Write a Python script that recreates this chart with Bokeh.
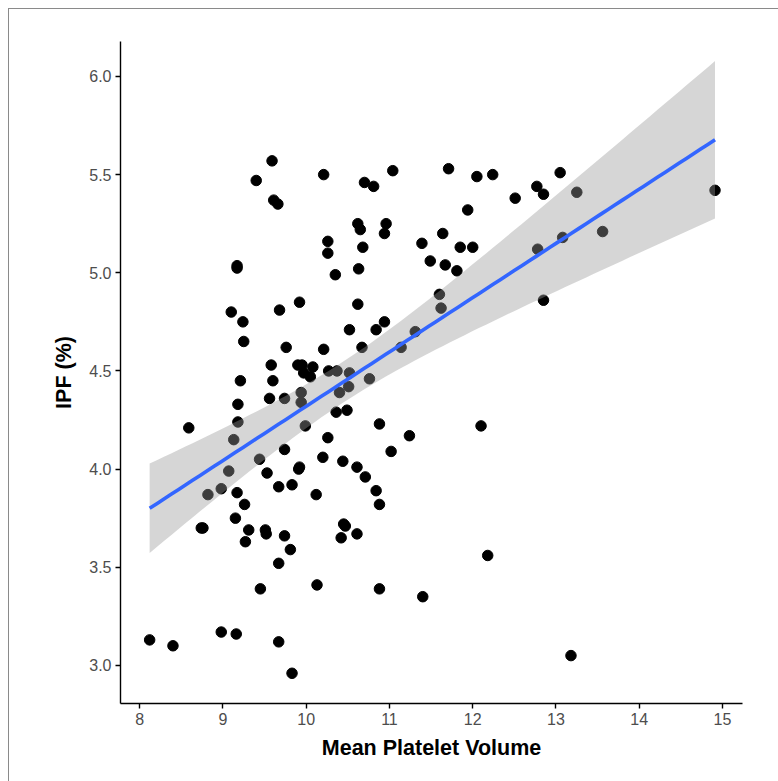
import numpy as np
from bokeh.plotting import figure
from bokeh.models import ColumnDataSource, Range1d, FixedTicker, CustomJSTickFormatter
from bokeh.embed import file_html
from bokeh.resources import INLINE

# Mean platelet volume (fL) and immature platelet fraction (%) per patient
mpv = [
    9.59, 9.40, 9.61, 9.66, 9.17, 9.17, 9.10, 9.24, 9.68, 9.92,
    9.25, 10.21, 10.70, 10.81, 11.04, 11.71, 12.05, 11.94, 10.62, 10.65,
    10.96, 10.94, 10.26, 10.26, 10.68, 10.63, 10.35, 11.39, 11.64, 11.85,
    12.00, 11.49, 11.67, 11.81, 11.60, 11.62, 10.62, 10.52, 10.84, 10.94,
    11.31, 12.24, 13.05, 12.77, 12.85, 12.51, 13.25, 14.91, 13.08, 13.56,
    12.78, 12.85, 9.76, 9.58, 9.60, 9.90, 9.21, 9.56, 9.74, 9.94,
    9.94, 9.18, 9.18, 8.59, 9.13, 9.44, 9.74, 9.92, 9.07, 9.53,
    9.67, 9.83, 8.82, 8.98, 9.17, 9.26, 9.15, 8.74, 8.76, 9.31,
    9.51, 9.52, 9.74, 9.27, 9.81, 9.67, 9.45, 8.12, 8.40, 8.98,
    9.16, 9.67, 9.83, 10.21, 10.67, 11.14, 9.95, 10.08, 9.97, 10.05,
    10.27, 10.37, 10.52, 10.76, 10.40, 10.51, 10.36, 10.49, 9.99, 10.88,
    10.26, 11.24, 10.20, 10.44, 10.61, 11.02, 10.71, 10.12, 10.84, 10.88,
    10.45, 10.47, 10.61, 10.42, 10.13, 10.88, 11.40, 12.18, 13.18, 12.10,
    9.91,
]
ipf = [
    5.57, 5.47, 5.37, 5.35, 5.036, 5.024, 4.80, 4.75, 4.81, 4.85,
    4.65, 5.50, 5.46, 5.44, 5.52, 5.53, 5.49, 5.32, 5.25, 5.22,
    5.25, 5.20, 5.16, 5.10, 5.13, 5.02, 4.99, 5.15, 5.20, 5.13,
    5.13, 5.06, 5.04, 5.01, 4.89, 4.82, 4.84, 4.71, 4.71, 4.75,
    4.70, 5.50, 5.51, 5.44, 5.40, 5.38, 5.41, 5.42, 5.18, 5.21,
    5.12, 4.86, 4.62, 4.53, 4.45, 4.53, 4.45, 4.36, 4.36, 4.39,
    4.34, 4.33, 4.24, 4.21, 4.15, 4.05, 4.10, 4.01, 3.99, 3.98,
    3.91, 3.92, 3.87, 3.90, 3.88, 3.82, 3.75, 3.70, 3.70, 3.69,
    3.69, 3.67, 3.66, 3.63, 3.59, 3.52, 3.39, 3.13, 3.10, 3.17,
    3.16, 3.12, 2.96, 4.61, 4.62, 4.62, 4.53, 4.52, 4.49, 4.47,
    4.50, 4.50, 4.49, 4.46, 4.39, 4.42, 4.29, 4.30, 4.22, 4.23,
    4.16, 4.17, 4.06, 4.04, 4.01, 4.09, 3.96, 3.87, 3.89, 3.82,
    3.72, 3.71, 3.67, 3.65, 3.41, 3.39, 3.35, 3.56, 3.05, 4.22,
    4.00,
]

x_ticks = [8, 9, 10, 11, 12, 13, 14, 15]
y_ticks = [3.0, 3.5, 4.0, 4.5, 5.0, 5.5, 6.0]

# Ordinary least squares fit with a 95% confidence band
x = np.asarray(mpv, dtype=float)
y = np.asarray(ipf, dtype=float)
n = len(x)
xbar = x.mean()
sxx = ((x - xbar) ** 2).sum()
slope = ((x - xbar) * (y - y.mean())).sum() / sxx
intercept = y.mean() - slope * xbar
resid = y - (intercept + slope * x)
s = np.sqrt((resid ** 2).sum() / (n - 2))
t_crit = 1.979
grid = np.linspace(x.min(), x.max(), 80)
fit = intercept + slope * grid
half = t_crit * s * np.sqrt(1.0 / n + (grid - xbar) ** 2 / sxx)

pts = ColumnDataSource(dict(x=mpv, y=ipf))
band = ColumnDataSource(dict(x=grid, lo=fit - half, hi=fit + half, fit=fit))

p = figure(
    width=770, height=773,
    x_range=Range1d(7.77, 15.24), y_range=Range1d(2.806, 6.178),
    output_backend="svg", toolbar_location=None,
    min_border_left=111, min_border_right=37,
    min_border_top=32, min_border_bottom=79,
    margin=(8, 0, 0, 8),
)
p.styles = {"border-left": "1px solid #8a8a8a", "border-top": "1px solid #8a8a8a"}

p.scatter("x", "y", source=pts, size=10.5, color="black")
p.varea(x="x", y1="lo", y2="hi", source=band, fill_color="#999999", fill_alpha=0.4)
p.line("x", "fit", source=band, line_color="#3366FF", line_width=3.6)

p.grid.visible = False
p.outline_line_color = None
p.background_fill_color = "white"
p.border_fill_color = "white"

for ax in (p.xaxis, p.yaxis):
    ax.axis_line_color = "black"
    ax.axis_line_width = 1.4
    ax.major_tick_line_color = "black"
    ax.major_tick_line_width = 1.4
    ax.major_tick_out = 5
    ax.major_tick_in = 0
    ax.minor_tick_line_color = None
    ax.major_label_text_font = "Liberation Sans"
    ax.major_label_text_font_size = "16px"
    ax.major_label_text_color = "#4D4D4D"
    ax.major_label_standoff = 4
    ax.axis_label_text_font = "Liberation Sans"
    ax.axis_label_text_font_style = "bold"
    ax.axis_label_text_font_size = "21.5px"
    ax.axis_label_text_color = "black"

p.xaxis.ticker = FixedTicker(ticks=x_ticks)
p.yaxis.ticker = FixedTicker(ticks=y_ticks)
p.yaxis.formatter = CustomJSTickFormatter(code="return tick.toFixed(1);")
p.xaxis.axis_label = "Mean Platelet Volume"
p.yaxis.axis_label = "IPF (%)"
p.xaxis.axis_label_standoff = 8
p.yaxis.axis_label_standoff = 10

open("out.html", "w").write(file_html(p, INLINE))
